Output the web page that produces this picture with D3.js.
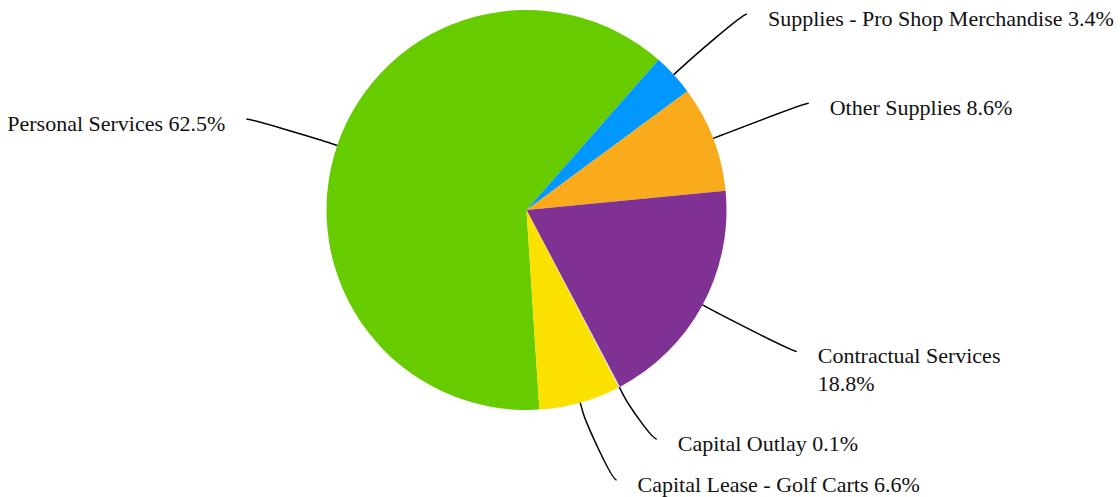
<!DOCTYPE html>
<html>
<head>
<meta charset="utf-8">
<script src="https://cdn.jsdelivr.net/npm/d3@7"></script>
<style>
  html, body { margin: 0; padding: 0; background: #fff; }
  svg { display: block; }
  text { font-family: "Liberation Serif", "Times New Roman", serif; font-size: 22px; fill: #111; }
</style>
</head>
<body>
<svg id="chart" width="1120" height="497"></svg>
<script>
// Budget categories and their share of expenditures (percent)
const categories = [
  "Personal Services",
  "Supplies - Pro Shop Merchandise",
  "Other Supplies",
  "Contractual Services",
  "Capital Outlay",
  "Capital Lease - Golf Carts"
];
const shares = [62.5, 3.4, 8.6, 18.8, 0.1, 6.6];
const sliceColors = ["#66cc00", "#0098ff", "#f9ab1c", "#803194", "#dcdcdc", "#fae100"];
// Label lines (long names wrap onto a second line)
const labelLines = [
  ["Personal Services 62.5%"],
  ["Supplies - Pro Shop Merchandise 3.4%"],
  ["Other Supplies 8.6%"],
  ["Contractual Services", "18.8%"],
  ["Capital Outlay 0.1%"],
  ["Capital Lease - Golf Carts 6.6%"]
];

const width = 1120, height = 497;
const cx = 526.5, cy = 210, radius = 200;
const labelRadius = 298;      // where labels naturally sit
const breakOffset = 10;       // connector bend just outside the pie
const textGap = 21;
const minLabelGap = 41;
const labelTop = 14, labelBottom = 480;
// small per-label layout nudges (dx, dy) applied after placement
const labelNudge = [[2, 5], [1, 0], [4, 0], [8, 0], [-8, 0], [10, 0]];

const svg = d3.select("#chart");
const g = svg.append("g").attr("transform", `translate(${cx},${cy})`);

const startDeg = 176.3;
const pie = d3.pie()
  .sort(null)
  .value(d => d)
  .startAngle(startDeg * Math.PI / 180)
  .endAngle(startDeg * Math.PI / 180 + 2 * Math.PI);

const arcs = pie(shares);
const arc = d3.arc().innerRadius(0).outerRadius(radius);

g.selectAll("path.slice")
  .data(arcs)
  .join("path")
  .attr("class", "slice")
  .attr("d", arc)
  .attr("fill", (d, i) => sliceColors[i]);

// polar helper: angle measured clockwise from 12 o'clock
const polar = (a, r) => [r * Math.sin(a), -r * Math.cos(a)];

const labels = arcs.map((d, i) => {
  const mid = (d.startAngle + d.endAngle) / 2;
  const [nx, ny] = polar(mid, labelRadius);
  const right = Math.sin(mid) >= 0;
  return { i, mid, x: nx, y: ny, right };
});

// keep labels inside the chart and apart from each other on each side
[true, false].forEach(side => {
  const list = labels.filter(l => l.right === side).sort((a, b) => a.y - b.y);
  list.forEach(l => { l.y = Math.max(labelTop - cy, Math.min(labelBottom - cy, l.y)); });
  for (let k = list.length - 2; k >= 0; k--) {
    if (list[k + 1].y - list[k].y < minLabelGap) list[k].y = list[k + 1].y - minLabelGap;
  }
  for (let k = 1; k < list.length; k++) {
    if (list[k].y - list[k - 1].y < minLabelGap) list[k].y = list[k - 1].y + minLabelGap;
  }
});
labels.forEach(l => { l.x += labelNudge[l.i][0]; l.y += labelNudge[l.i][1]; });

const line = labels.map(l => {
  const touch = polar(l.mid, radius);
  const brk = polar(l.mid, radius + breakOffset);
  const c1 = [l.x + (l.right ? -5 : 5), l.y];
  const c2 = [2 * brk[0] - touch[0], 2 * brk[1] - touch[1]];
  const p = d3.path();
  p.moveTo(l.x, l.y);
  p.bezierCurveTo(c1[0], c1[1], c2[0], c2[1], brk[0], brk[1]);
  p.lineTo(touch[0], touch[1]);
  return p.toString();
});

g.selectAll("path.connector")
  .data(labels)
  .join("path")
  .attr("class", "connector")
  .attr("d", (l, k) => line[k])
  .attr("fill", "none")
  .attr("stroke", "#000")
  .attr("stroke-width", 1.5);

const texts = g.selectAll("text.label")
  .data(labels)
  .join("text")
  .attr("class", "label")
  .attr("text-anchor", l => l.right ? "start" : "end")
  .attr("x", l => l.x + (l.right ? textGap : -textGap))
  .attr("y", l => l.y + 12);

texts.selectAll("tspan")
  .data(l => labelLines[l.i].map(t => ({ t, l })))
  .join("tspan")
  .attr("x", d => d.l.x + (d.l.right ? textGap : -textGap))
  .attr("dy", (d, j) => j === 0 ? 0 : 28)
  .text(d => d.t);
</script>
</body>
</html>
